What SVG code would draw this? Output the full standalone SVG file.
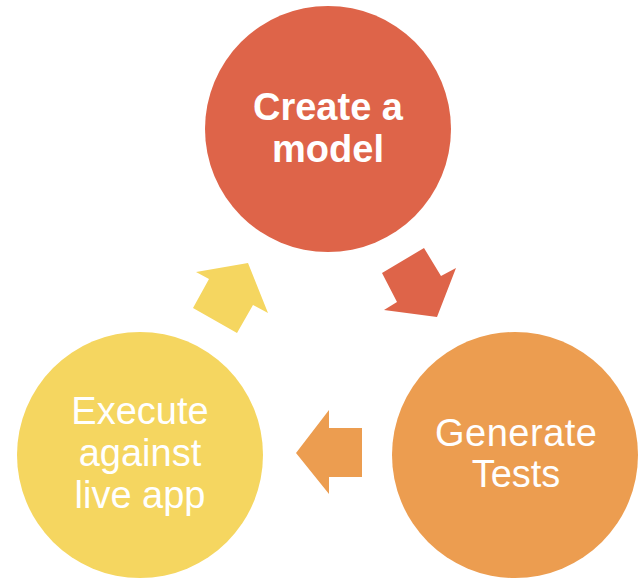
<svg xmlns="http://www.w3.org/2000/svg" width="638" height="579" viewBox="0 0 638 579">
<style>
.t{font-family:"Liberation Sans",Arial,sans-serif;fill:#fff;text-anchor:middle}
.b{font-weight:bold;font-size:38px}
.r{font-size:38px}
</style>
<rect width="638" height="579" fill="#fff"/>
<g id="connectors">
<polygon points="382,273 424,248 441,276 456,268 437,317 384,310 397,302" fill="#DE6449"/>
<polygon points="362,428 329,428 329,410 296,453 329,494 329,477 362,477" fill="#EC9D50"/>
<polygon points="193,308 209,279 196,272 248,263 268,313 253,305 237,333" fill="#F5D660"/>
</g>
<g id="node-model">
<circle cx="328" cy="129" r="123" fill="#DE6449"/>
<text class="t b" x="328" y="120">Create a</text>
<text class="t b" x="328" y="162">model</text>
</g>
<g id="node-tests">
<circle cx="515" cy="455" r="123" fill="#EC9D50"/>
<text class="t r" x="516" y="446" textLength="162" lengthAdjust="spacing">Generate</text>
<text class="t r" x="516" y="487">Tests</text>
</g>
<g id="node-execute">
<circle cx="140" cy="455" r="123" fill="#F5D660"/>
<text class="t r" x="140" y="424">Execute</text>
<text class="t r" x="140" y="466">against</text>
<text class="t r" x="140" y="508">live app</text>
</g>
</svg>
